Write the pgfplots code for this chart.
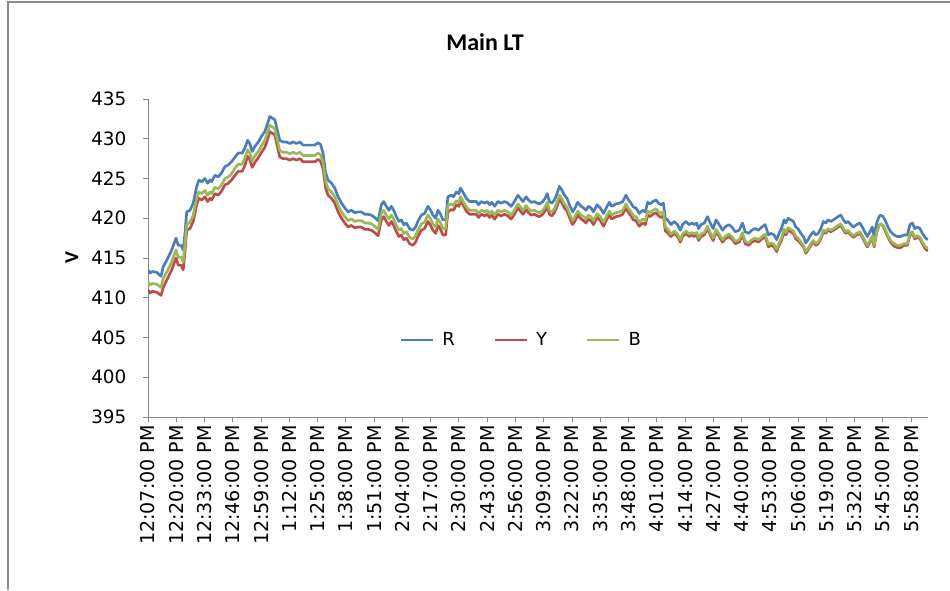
\documentclass[border=0pt]{standalone}
\usepackage{fontspec}
\setmainfont{DejaVu Sans}
\newfontfamily\calibri{Carlito}
\usepackage{pgfplots}
\pgfplotsset{compat=1.18}
\usepackage{pgfplotstable}

\definecolor{serR}{HTML}{4A7EBB}
\definecolor{serY}{HTML}{BE4B48}
\definecolor{serB}{HTML}{98B954}
\definecolor{axisgray}{HTML}{868686}
\definecolor{framegray}{HTML}{8C8C8C}

% t = minutes after 12:07 PM; R, Y, B phase voltages
\pgfplotstableread{
t R Y B
0 413.5 411.0 412.0
0.9 413.1 410.6 411.6
2.0 413.3 410.8 411.8
4.0 413.2 410.7 411.7
6.0 412.7 410.3 411.3
7.0 413.9 411.3 412.4
8.6 414.7 412.2 413.2
10.9 416.0 413.5 414.5
12.9 417.5 415.0 416.0
13.9 416.6 414.1 415.1
15.2 416.6 414.1 415.1
16.2 416.0 413.5 414.5
17.0 418.1 415.7 416.6
17.8 420.8 418.5 419.2
19.3 421.0 418.7 419.5
20.8 421.9 419.6 420.4
22.4 424.0 421.7 422.5
23.4 424.8 422.5 423.3
24.7 424.6 422.3 423.1
26.2 425.0 422.7 423.5
27.4 424.4 422.1 422.9
28.5 424.8 422.5 423.3
29.3 424.6 422.3 423.1
30.8 425.4 423.1 423.9
32.3 425.2 422.9 423.7
33.8 425.7 423.4 424.2
35.4 426.5 424.2 425.0
36.9 426.7 424.4 425.2
38.4 427.1 424.8 425.6
40.0 427.7 425.4 426.3
41.5 428.2 425.9 426.8
43.3 428.2 425.9 426.8
44.5 428.8 426.6 427.5
45.8 429.8 427.8 428.6
46.8 429.4 427.4 428.2
47.9 428.4 426.4 427.2
49.1 429.0 427.0 427.8
50.7 429.6 427.6 428.4
52.2 430.3 428.3 429.1
53.7 430.9 428.9 429.8
55.0 431.9 429.9 430.8
56.0 432.8 430.9 431.7
57.1 432.6 430.7 431.5
58.3 432.4 430.5 431.3
59.1 431.5 429.5 430.3
60.6 429.8 427.7 428.5
62.1 429.6 427.5 428.3
63.7 429.6 427.5 428.3
65.2 429.4 427.3 428.1
66.7 429.6 427.5 428.3
68.3 429.4 427.3 428.1
69.8 429.6 427.5 428.3
71.3 429.2 427.1 427.9
72.8 429.2 427.1 427.9
75.2 429.2 427.1 427.9
76.7 429.2 427.1 427.9
78.2 429.5 427.4 428.2
79.3 429.3 427.2 428.0
80.5 428.2 426.2 427.0
81.7 425.7 423.8 424.6
82.8 424.8 422.9 423.7
84.4 424.4 422.5 423.3
85.9 423.8 421.9 422.7
87.4 422.7 420.8 421.6
89.0 421.9 420.0 420.8
90.5 421.3 419.4 420.2
92.0 420.8 418.9 419.7
93.5 421.0 419.1 419.9
95.1 420.7 418.8 419.6
96.6 420.8 418.9 419.7
98.1 420.8 418.9 419.7
99.7 420.5 418.6 419.4
101.2 420.5 418.6 419.4
102.7 420.4 418.5 419.3
104.2 420.1 418.2 419.0
105.8 419.7 417.8 418.6
107.3 421.7 419.8 420.6
108.4 422.1 420.2 421.0
109.6 421.5 419.6 420.4
110.8 421.0 419.1 419.9
111.9 421.5 419.6 420.4
113.0 421.0 419.1 419.9
114.2 420.2 418.3 419.1
115.4 419.6 417.7 418.5
116.5 419.8 417.9 418.7
117.6 419.2 417.3 418.1
118.8 419.4 417.5 418.3
120.3 418.7 416.8 417.6
121.8 418.5 416.6 417.4
123.1 418.9 417.0 417.8
124.1 419.6 417.7 418.5
125.7 420.4 418.5 419.3
127.2 420.6 418.7 419.5
128.7 421.5 419.6 420.4
130.0 421.0 419.1 419.9
131.0 420.4 418.5 419.3
132.3 420.0 418.1 418.9
133.3 421.0 419.1 419.9
134.4 420.6 418.7 419.5
135.6 419.8 417.9 418.7
136.9 419.8 417.9 418.7
137.9 422.7 420.8 421.6
139.5 422.9 421.1 421.8
140.5 422.7 421.0 421.6
141.8 423.3 421.7 422.2
143.0 423.1 421.5 422.0
143.7 423.8 422.2 422.7
144.8 423.3 421.7 422.2
146.4 422.5 420.9 421.4
147.9 422.1 420.5 421.0
149.4 422.1 420.5 421.0
151.0 422.1 420.5 421.0
152.0 421.7 420.1 420.6
153.3 422.1 420.5 421.0
154.8 421.9 420.3 420.8
156.0 422.1 420.5 421.0
157.1 421.7 420.1 420.6
158.1 422.0 420.4 420.9
159.4 421.5 419.9 420.4
160.9 422.1 420.5 421.0
162.4 421.9 420.3 420.8
164.0 422.1 420.5 421.0
165.5 421.9 420.3 420.8
167.0 421.5 419.9 420.4
168.5 422.1 420.5 421.0
170.1 422.9 421.3 421.8
171.3 422.5 420.9 421.4
172.4 422.1 420.5 421.0
173.9 422.7 421.1 421.6
175.0 422.3 420.7 421.2
176.2 422.0 420.4 420.9
177.7 422.1 420.5 421.0
179.0 421.9 420.3 420.8
180.0 421.8 420.2 420.7
181.5 422.1 420.5 421.0
182.6 422.5 420.9 421.4
183.6 423.1 421.5 422.0
184.6 422.1 420.5 421.0
185.7 421.9 420.3 420.8
186.9 422.3 420.7 421.2
188.1 423.1 421.5 422.0
189.2 424.0 422.4 422.9
190.2 423.6 422.0 422.5
191.5 422.9 421.3 421.8
192.7 422.5 420.9 421.4
193.8 421.7 420.1 420.6
195.3 420.8 419.2 419.7
196.4 421.3 419.7 420.2
197.6 422.0 420.4 420.9
199.2 421.5 419.9 420.4
200.3 421.3 419.7 420.2
201.4 421.0 419.4 419.9
202.5 421.5 419.9 420.4
203.7 421.3 419.7 420.2
204.9 420.8 419.2 419.7
206.5 421.7 420.1 420.6
208.0 421.3 419.7 420.2
209.5 420.6 419.0 419.5
211.1 421.5 419.9 420.4
212.2 422.0 420.4 420.9
213.2 421.5 419.9 420.4
215.2 421.8 420.2 420.7
216.8 421.9 420.3 420.8
218.3 422.1 420.5 421.0
219.8 422.9 421.3 421.8
221.0 422.3 420.7 421.2
222.1 421.9 420.3 420.8
223.2 421.4 419.8 420.3
224.4 421.3 419.7 420.2
225.9 420.6 419.0 419.5
227.5 421.0 419.4 419.9
228.7 420.8 419.2 419.7
229.8 422.0 420.4 420.9
230.9 421.8 420.2 420.7
232.1 422.1 420.5 421.0
233.6 422.3 420.7 421.2
234.8 421.9 420.3 420.8
235.9 421.7 420.1 420.6
237.0 421.9 420.3 420.8
237.9 420.0 418.4 418.9
238.9 419.8 418.2 418.7
240.5 419.2 417.7 418.0
242.0 419.6 418.1 418.4
243.5 419.2 417.7 418.0
244.8 418.5 417.0 417.3
245.8 419.2 417.7 418.0
247.4 419.6 418.1 418.4
248.9 419.2 417.7 418.0
250.2 419.4 417.9 418.2
251.2 419.2 417.7 418.0
252.3 419.4 417.9 418.2
253.2 418.7 417.2 417.5
254.3 419.2 417.7 418.0
255.8 419.4 417.9 418.2
257.3 420.2 418.7 419.0
258.9 419.2 417.7 418.0
259.9 418.7 417.2 417.5
261.2 419.8 418.3 418.6
262.7 419.2 417.7 418.0
264.2 418.5 417.0 417.3
265.4 418.9 417.4 417.7
267.0 419.2 417.7 418.0
268.5 418.9 417.4 417.7
270.1 418.3 416.8 417.1
271.9 418.5 417.0 417.3
273.4 419.4 417.9 418.2
274.6 418.3 416.8 417.1
276.2 418.1 416.6 416.9
277.7 418.5 417.0 417.3
279.2 418.7 417.2 417.5
280.7 418.5 417.0 417.3
282.3 418.9 417.4 417.7
283.8 419.2 417.7 418.0
285.3 417.9 416.4 416.7
286.6 418.1 416.6 416.9
287.9 417.9 416.4 416.7
289.1 417.3 415.8 416.1
290.2 418.1 416.6 416.9
291.3 418.7 417.2 417.5
292.5 419.8 418.3 418.6
293.3 419.4 417.9 418.2
294.4 420.0 418.5 418.8
295.6 419.8 418.3 418.6
296.8 419.6 418.1 418.4
297.9 418.9 417.4 417.7
298.9 418.7 417.2 417.5
300.2 418.1 416.8 417.0
301.4 417.7 416.4 416.6
302.5 416.9 415.6 415.8
303.5 417.3 416.0 416.2
304.8 417.9 416.6 416.8
306.0 418.3 417.0 417.2
307.1 417.9 416.6 416.8
308.2 418.1 416.8 417.0
309.4 418.7 417.4 417.6
310.6 419.6 418.3 418.5
311.7 419.4 418.1 418.3
312.7 419.8 418.5 418.7
314.0 419.6 418.3 418.5
315.2 419.8 418.5 418.7
316.3 420.0 418.7 418.9
317.3 420.2 418.9 419.1
318.6 420.4 419.1 419.3
319.8 419.8 418.5 418.7
320.9 419.4 418.1 418.3
321.9 419.6 418.3 418.5
323.2 419.2 417.9 418.1
324.4 418.9 417.6 417.8
325.9 419.2 417.9 418.1
327.4 419.4 418.1 418.3
328.5 418.9 417.6 417.8
329.6 418.3 417.0 417.2
330.8 417.7 416.4 416.6
332.0 418.3 417.0 417.2
333.1 418.9 417.6 417.8
333.9 417.7 416.4 416.6
335.1 419.4 418.2 418.3
336.2 420.2 419.1 419.1
336.9 420.4 419.3 419.3
338.1 420.2 419.0 419.1
339.2 419.6 418.3 418.5
340.3 418.9 417.6 417.8
341.5 418.3 417.0 417.2
343.1 417.9 416.5 416.8
344.6 417.7 416.3 416.6
346.1 417.7 416.3 416.6
347.7 417.9 416.6 416.8
349.2 417.9 416.6 416.8
350.4 419.2 417.9 418.1
351.5 419.4 418.1 418.3
352.6 418.7 417.4 417.6
353.8 418.9 417.6 417.8
355.0 418.7 417.4 417.6
356.1 418.1 416.8 417.0
357.6 417.5 416.1 416.4
358.7 417.3 415.9 416.2
}\voltages

\begin{document}
\fontsize{13.5}{16}\selectfont
\begin{tikzpicture}
\path[use as bounding box] (0,0) rectangle (712.5pt,442.5pt);
% chart frame
\draw[framegray, line width=1.3pt] (6pt,0) -- (6pt,441pt) -- (712.5pt,441pt);
% title and axis title
\node[font=\calibri\bfseries\fontsize{18}{20}\selectfont] at (363.75pt,411pt) {Main LT};
\node[font=\calibri\bfseries\fontsize{15}{18}\selectfont, rotate=90] at (54pt,249pt) {V};
\begin{axis}[
  at={(111pt,129.75pt)}, anchor=south west,
  scale only axis, width=585pt, height=238.5pt,
  xmin=0, xmax=358.7, ymin=395, ymax=435,
  axis lines*=left,
  axis line style={axisgray, line width=0.75pt},
  tick style={axisgray, line width=0.75pt},
  tick align=outside, major tick length=4pt,
  xtick={0,13,...,351},
  xticklabels={12:07:00 PM,12:20:00 PM,12:33:00 PM,12:46:00 PM,12:59:00 PM,
    1:12:00 PM,1:25:00 PM,1:38:00 PM,1:51:00 PM,2:04:00 PM,2:17:00 PM,
    2:30:00 PM,2:43:00 PM,2:56:00 PM,3:09:00 PM,3:22:00 PM,3:35:00 PM,
    3:48:00 PM,4:01:00 PM,4:14:00 PM,4:27:00 PM,4:40:00 PM,4:53:00 PM,
    5:06:00 PM,5:19:00 PM,5:32:00 PM,5:45:00 PM,5:58:00 PM},
  xticklabel style={rotate=90, anchor=east, inner sep=2pt,
    font=\fontsize{14.3}{16}\selectfont},
  ytick={395,400,...,435},
  yticklabel style={inner sep=0pt, xshift=-12pt,
    font=\fontsize{13.8}{16}\selectfont},
  /pgf/number format/assume math mode=true,
  legend columns=3,
  legend style={draw=none, fill=none, at={(0.479,0.242)}, anchor=center,
    font=\fontsize{13.5}{16}\selectfont,
    /tikz/every odd column/.append style={column sep=4pt},
    /tikz/every even column/.append style={column sep=27pt}},
  legend image code/.code={\draw[#1] (0pt,0pt) -- (24pt,0pt);},
  every axis plot/.append style={line width=2pt, line join=round, mark=none},
]
\addplot[serR] table[x=t, y=R] {\voltages};
\addlegendentry{R}
\addplot[serY] table[x=t, y=Y] {\voltages};
\addlegendentry{Y}
\addplot[serB] table[x=t, y=B] {\voltages};
\addlegendentry{B}
\end{axis}
\end{tikzpicture}
\end{document}
